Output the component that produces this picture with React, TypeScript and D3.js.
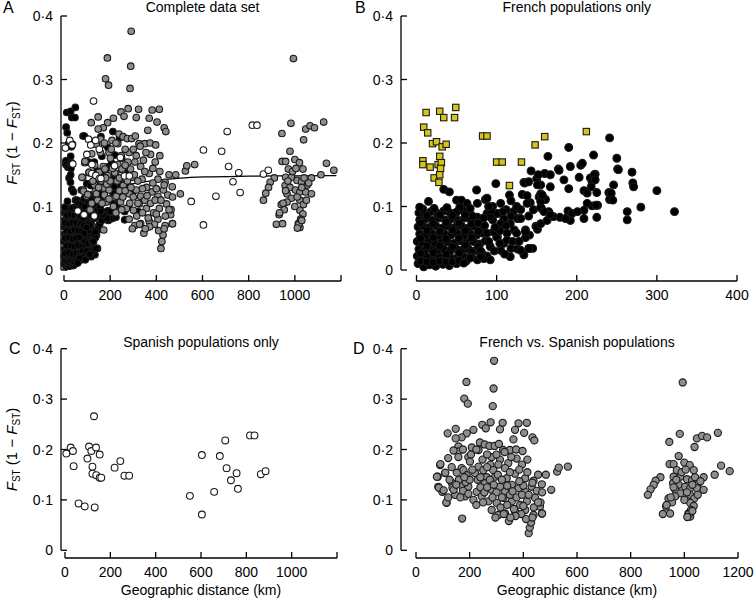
import React, { useEffect, useRef } from 'react'
import * as d3 from 'd3'

type Pt = [number, number] // [distance km, Fst/(1-Fst)]

// ---- data ----
const yTicks = [0, 0.1, 0.2, 0.3, 0.4]
const kmTicksWide = [0, 200, 400, 600, 800, 1000, 1200]
const kmTicksFrench = [0, 100, 200, 300, 400]

// French vs French pairs (black dots in B and A)
const french: Pt[] = [
  [2, 0.01], [9, 0.005], [16, 0.008], [24, 0.006], [33, 0.009], [41, 0.007], [50, 0.01], [58, 0.012],
  [1, 0.022], [6, 0.018], [13, 0.02], [21, 0.017], [28, 0.021], [36, 0.019], [44, 0.018], [52, 0.021], [60, 0.02], [68, 0.022], [76, 0.016],
  [3, 0.033], [10, 0.03], [18, 0.034], [26, 0.031], [34, 0.033], [42, 0.03], [49, 0.034], [57, 0.031], [65, 0.033], [73, 0.03], [81, 0.028],
  [1, 0.045], [7, 0.043], [15, 0.046], [23, 0.042], [31, 0.045], [39, 0.044], [47, 0.042], [55, 0.046], [63, 0.043], [71, 0.045], [79, 0.041], [86, 0.046],
  [4, 0.057], [11, 0.055], [19, 0.058], [27, 0.054], [35, 0.057], [43, 0.055], [51, 0.058], [59, 0.054], [67, 0.057], [75, 0.055], [83, 0.058],
  [2, 0.068], [8, 0.07], [16, 0.067], [24, 0.07], [32, 0.066], [40, 0.069], [48, 0.067], [56, 0.07], [64, 0.066], [72, 0.069], [80, 0.065],
  [4, 0.079], [12, 0.081], [20, 0.078], [28, 0.082], [36, 0.079], [44, 0.081], [52, 0.078], [60, 0.082], [68, 0.079], [76, 0.083],
  [3, 0.09], [10, 0.088], [18, 0.092], [26, 0.089], [34, 0.093], [42, 0.09], [50, 0.091], [58, 0.094], [66, 0.09],
  [5, 0.026], [13, 0.038], [21, 0.027], [29, 0.038], [37, 0.025], [45, 0.037], [53, 0.027], [61, 0.039], [69, 0.028], [77, 0.037],
  [5, 0.05], [13, 0.062], [21, 0.051], [29, 0.061], [37, 0.049], [45, 0.063], [53, 0.05], [61, 0.062], [69, 0.051], [77, 0.061],
  [5, 0.074], [13, 0.086], [21, 0.073], [29, 0.087], [37, 0.075], [45, 0.086], [53, 0.074], [61, 0.087], [69, 0.073], [77, 0.074],
  [5, 0.014], [13, 0.013], [21, 0.012], [29, 0.014], [37, 0.013], [45, 0.013], [53, 0.015], [62, 0.014],
  [8, 0.096], [22, 0.097], [38, 0.098], [54, 0.099], [70, 0.085],
  [4, 0.099], [15, 0.108], [34, 0.127], [41, 0.123], [50, 0.11], [56, 0.11], [63, 0.105], [67, 0.097], [76, 0.105], [75, 0.126],
  [86, 0.111], [88, 0.113], [88, 0.089], [95, 0.079], [99, 0.136], [101, 0.089], [105, 0.105], [109, 0.081], [116, 0.118], [118, 0.109],
  [126, 0.081], [122, 0.063], [132, 0.119], [134, 0.138], [136, 0.063], [141, 0.055], [142, 0.106], [149, 0.069], [151, 0.064], [153, 0.115],
  [156, 0.097], [136, 0.051], [134, 0.024], [141, 0.034], [145, 0.034], [118, 0.034], [126, 0.033], [109, 0.042], [101, 0.052], [113, 0.058],
  [92, 0.037], [88, 0.022], [84, 0.018], [68, 0.021], [80, 0.03], [121, 0.092], [130, 0.081], [117, 0.073], [105, 0.073], [92, 0.084],
  [100, 0.052], [113, 0.047], [125, 0.058], [105, 0.031], [117, 0.021], [130, 0.031], [80, 0.021], [92, 0.016], [67, 0.019], [59, 0.011],
  [90, 0.045], [97, 0.03], [104, 0.042], [110, 0.025], [96, 0.06], [104, 0.062], [112, 0.07], [120, 0.045], [128, 0.045], [95, 0.1],
  [112, 0.095], [125, 0.1], [85, 0.07], [88, 0.058], [93, 0.094], [98, 0.067], [108, 0.092], [130, 0.095], [118, 0.085], [140, 0.085],
  [146, 0.095], [84, 0.082], [90, 0.1],
  [241, 0.208], [190, 0.193], [164, 0.179], [221, 0.181], [250, 0.176], [251, 0.159], [269, 0.154], [143, 0.156], [160, 0.152], [177, 0.159],
  [192, 0.163], [205, 0.165], [207, 0.168], [223, 0.151], [135, 0.137], [150, 0.144], [155, 0.134], [184, 0.142], [203, 0.146], [217, 0.145],
  [219, 0.139], [246, 0.134], [270, 0.137], [271, 0.131], [300, 0.125], [138, 0.117], [155, 0.12], [161, 0.111], [190, 0.128], [209, 0.125],
  [225, 0.122], [240, 0.122], [241, 0.111], [138, 0.105], [155, 0.099], [165, 0.092], [171, 0.084], [179, 0.083], [189, 0.093], [194, 0.089],
  [192, 0.078], [209, 0.094], [209, 0.081], [219, 0.101], [225, 0.083], [226, 0.102], [263, 0.092], [263, 0.079], [280, 0.099], [322, 0.092],
  [150, 0.068], [136, 0.06], [140, 0.034], [155, 0.073], [163, 0.078], [152, 0.15], [167, 0.15], [178, 0.157], [222, 0.15], [223, 0.142],
  [252, 0.158], [243, 0.121], [245, 0.11], [213, 0.121], [218, 0.131], [213, 0.105], [224, 0.102], [201, 0.092], [186, 0.081], [167, 0.087],
  [159, 0.092], [155, 0.108], [157, 0.118], [167, 0.131], [151, 0.134], [140, 0.139],
]

// French pairs involving the outlying population (yellow squares in B)
const frenchOutlier: Pt[] = [
  [12, 0.248], [29, 0.25], [34, 0.24], [49, 0.256], [47.5, 0.24], [9, 0.225], [14, 0.216], [20, 0.199], [25, 0.202], [32, 0.194],
  [37, 0.198], [8, 0.172], [8, 0.166], [17, 0.162], [29, 0.179], [27, 0.166], [31, 0.169], [30, 0.16], [22, 0.145], [29, 0.15],
  [28, 0.138], [82.5, 0.211], [88, 0.211], [100, 0.17], [107, 0.17], [131, 0.17], [148, 0.197], [160, 0.21], [212, 0.218], [116, 0.133],
]

// Spanish vs Spanish pairs (white circles in C and A)
const spanish: Pt[] = [
  [6, 0.192], [25, 0.204], [35, 0.197], [38, 0.167], [60, 0.093], [87, 0.087], [106, 0.206], [99, 0.182], [116, 0.197], [128, 0.266],
  [137, 0.204], [121, 0.166], [121, 0.152], [131, 0.085], [138, 0.149], [153, 0.19], [153, 0.144], [160, 0.144], [219, 0.164], [244, 0.177],
  [262, 0.148], [283, 0.148], [551, 0.108], [604, 0.189], [604, 0.071], [658, 0.116], [683, 0.187], [707, 0.218], [713, 0.163], [732, 0.139],
  [757, 0.153], [763, 0.122], [816, 0.228], [836, 0.228], [864, 0.151], [885, 0.157],
]

// French vs Spanish pairs (grey circles in D and A)
const frenchSpanish: Pt[] = [
  [291, 0.376], [188, 0.334], [289, 0.321], [180, 0.301], [193, 0.291], [286, 0.286],
  [247, 0.249], [278, 0.254], [323, 0.253], [382, 0.252], [413, 0.253], [260, 0.242], [313, 0.24], [369, 0.239], [403, 0.233], [434, 0.224],
  [441, 0.218], [118, 0.232], [148, 0.241], [189, 0.232], [214, 0.239], [170, 0.224], [148, 0.222], [363, 0.22],
  [238, 0.214], [256, 0.21], [274, 0.207], [293, 0.207], [309, 0.211], [325, 0.199], [350, 0.199], [373, 0.2], [397, 0.197], [158, 0.206],
  [158, 0.196], [208, 0.204], [233, 0.199],
  [120, 0.183], [158, 0.185], [195, 0.185], [248, 0.18], [282, 0.185], [313, 0.18], [344, 0.173], [375, 0.182], [90, 0.169], [201, 0.176],
  [233, 0.166], [277, 0.17], [307, 0.17], [332, 0.163], [170, 0.163], [133, 0.165],
  [108, 0.153], [152, 0.154], [177, 0.159], [189, 0.149], [220, 0.153], [251, 0.159], [264, 0.145], [288, 0.159], [295, 0.146], [338, 0.143],
  [369, 0.152], [407, 0.143], [438, 0.138], [484, 0.15], [81, 0.146],
  [83, 0.126], [98, 0.116], [133, 0.134], [170, 0.129], [195, 0.126], [226, 0.116], [257, 0.133], [282, 0.12], [313, 0.126], [332, 0.116],
  [357, 0.13], [382, 0.123], [407, 0.116], [431, 0.126], [469, 0.131], [504, 0.12],
  [114, 0.094], [146, 0.11], [183, 0.107], [214, 0.1], [245, 0.107], [270, 0.097], [301, 0.094], [326, 0.104], [357, 0.097], [388, 0.09],
  [413, 0.097], [444, 0.104], [462, 0.087],
  [172, 0.063], [282, 0.08], [307, 0.07], [332, 0.073], [369, 0.077], [407, 0.08], [438, 0.07], [469, 0.073],
  [420, 0.034], [424, 0.045], [429, 0.055], [410, 0.062], [434, 0.065], [392, 0.072], [371, 0.068], [346, 0.058], [352, 0.065], [327, 0.072],
  [296, 0.065], [470, 0.073], [464, 0.095], [439, 0.085], [526, 0.156], [532, 0.164], [566, 0.166], [434, 0.134],
  [78, 0.146], [91, 0.171], [85, 0.124], [103, 0.119], [113, 0.095], [136, 0.124], [109, 0.154],
  [125, 0.14], [140, 0.12], [160, 0.14], [175, 0.118], [185, 0.135], [200, 0.14], [210, 0.16], [230, 0.14], [240, 0.125], [255, 0.115],
  [265, 0.125], [275, 0.14], [290, 0.13], [300, 0.115], [305, 0.15], [320, 0.14], [340, 0.128], [350, 0.11], [360, 0.117], [375, 0.105],
  [395, 0.11], [400, 0.128], [420, 0.11], [450, 0.118], [165, 0.105], [195, 0.112], [225, 0.09], [250, 0.095], [285, 0.105], [315, 0.085],
  [340, 0.09], [365, 0.082], [400, 0.088], [455, 0.095], [205, 0.19], [225, 0.2], [265, 0.19], [300, 0.19], [330, 0.195], [355, 0.185],
  [395, 0.17], [415, 0.18], [140, 0.198], [175, 0.2], [265, 0.165], [350, 0.155], [385, 0.16], [415, 0.155], [455, 0.15], [470, 0.115],
  [120, 0.105], [150, 0.13], [180, 0.145], [240, 0.145], [320, 0.105], [385, 0.137],
  [994, 0.333], [983, 0.231], [944, 0.215], [1047, 0.222], [1066, 0.227], [1085, 0.224], [1125, 0.233], [1038, 0.205], [979, 0.187], [945, 0.171],
  [960, 0.171], [1000, 0.174], [1020, 0.169], [1035, 0.159], [1137, 0.168], [1169, 0.157], [1113, 0.15], [1072, 0.145], [1053, 0.134], [972, 0.159],
  [960, 0.146], [985, 0.146], [1010, 0.141], [1029, 0.139], [911, 0.145], [893, 0.138], [886, 0.13], [874, 0.121], [864, 0.11], [958, 0.133],
  [979, 0.13], [1003, 0.126], [1022, 0.123], [1047, 0.123], [1072, 0.12], [966, 0.12], [985, 0.113], [966, 0.107], [941, 0.103], [1022, 0.11],
  [1037, 0.103], [954, 0.095], [1022, 0.094], [1035, 0.088], [932, 0.087], [920, 0.072], [947, 0.073], [1015, 0.073], [1025, 0.08], [1022, 0.067],
  [1017, 0.0715], [1030, 0.078], [1011, 0.066], [934, 0.09], [949, 0.105], [990, 0.155], [1005, 0.16], [1040, 0.145], [970, 0.14], [1000, 0.1],
  [1010, 0.115], [1050, 0.11], [960, 0.125], [1030, 0.13], [1060, 0.137],
]

// fitted isolation-by-distance curve in A
const fitLine: Pt[] = [
  [200, 0.129], [307, 0.1366], [400, 0.141], [502, 0.1446], [610, 0.1465], [800, 0.1477], [1000, 0.1483], [1180, 0.1487],
]

const FONT = '"Liberation Sans", Arial, Helvetica, sans-serif'
const GREY = '#8e8e8e'
const YELLOW = '#d6c514'

interface Panel {
  letter: string
  title: string
  xMax: number
  ticks: number[]
  labelled: number[]
  x0: number; x1: number
  y0: number; y1: number
  yAxisX: number
  xAxisY: number
  titleY: number
  letterX: number
  letterY: number
  yLabel: boolean
  xLabel: boolean
}

const fmtY = (v: number) => (v === 0 ? '0' : d3.format('.1f')(v).replace('.', '·'))

export default function App() {
  const svgRef = useRef<SVGSVGElement>(null)

  useEffect(() => {
    if (!svgRef.current) return
    const svg = d3.select(svgRef.current)
    svg.selectAll('*').remove()

    const panels: Panel[] = [
      { letter: 'A', title: 'Complete data set', xMax: 1200, ticks: kmTicksWide, labelled: kmTicksWide.slice(0, 6),
        x0: 64, x1: 341, y0: 270, y1: 16, yAxisX: 61, xAxisY: 281, titleY: 12, letterX: 3, letterY: 13, yLabel: true, xLabel: false },
      { letter: 'B', title: 'French populations only', xMax: 400, ticks: kmTicksFrench, labelled: kmTicksFrench,
        x0: 416.5, x1: 737, y0: 270, y1: 16, yAxisX: 401, xAxisY: 281, titleY: 12, letterX: 355, letterY: 13, yLabel: false, xLabel: false },
      { letter: 'C', title: 'Spanish populations only', xMax: 1200, ticks: kmTicksWide, labelled: kmTicksWide.slice(0, 6),
        x0: 65, x1: 337, y0: 550.3, y1: 348.7, yAxisX: 61, xAxisY: 558, titleY: 347, letterX: 9, letterY: 354, yLabel: true, xLabel: true },
      { letter: 'D', title: 'French vs. Spanish populations', xMax: 1200, ticks: kmTicksWide, labelled: kmTicksWide,
        x0: 416, x1: 738, y0: 550.3, y1: 348.7, yAxisX: 401, xAxisY: 558, titleY: 347, letterX: 353, letterY: 354, yLabel: false, xLabel: true },
    ]

    panels.forEach(p => {
      const x = d3.scaleLinear().domain([0, p.xMax]).range([p.x0, p.x1])
      const y = d3.scaleLinear().domain([0, 0.4]).range([p.y0, p.y1])
      const g = svg.append('g').style('font-family', FONT)

      // y axis (bracket style, ticks inward)
      g.append('line')
        .attr('x1', p.yAxisX).attr('x2', p.yAxisX)
        .attr('y1', y(0)).attr('y2', y(0.4))
        .attr('stroke', '#000').attr('stroke-width', 1.3)
      yTicks.forEach(t => {
        g.append('line')
          .attr('x1', p.yAxisX).attr('x2', p.yAxisX + 6)
          .attr('y1', y(t)).attr('y2', y(t))
          .attr('stroke', '#000').attr('stroke-width', 1.3)
        g.append('text')
          .attr('x', p.yAxisX - 8).attr('y', y(t)).attr('dy', '0.36em')
          .attr('text-anchor', 'end').style('font-size', '14px')
          .text(fmtY(t))
      })

      // x axis
      g.append('line')
        .attr('x1', x(0)).attr('x2', x(p.xMax))
        .attr('y1', p.xAxisY).attr('y2', p.xAxisY)
        .attr('stroke', '#000').attr('stroke-width', 1.3)
      p.ticks.forEach(t => {
        g.append('line')
          .attr('x1', x(t)).attr('x2', x(t))
          .attr('y1', p.xAxisY).attr('y2', p.xAxisY - 6)
          .attr('stroke', '#000').attr('stroke-width', 1.3)
      })
      p.labelled.forEach(t => {
        g.append('text')
          .attr('x', x(t)).attr('y', p.xAxisY + 19)
          .attr('text-anchor', 'middle').style('font-size', '14px')
          .text(String(t))
      })

      // titles and panel letters
      g.append('text')
        .attr('x', (p.x0 + p.x1) / 2).attr('y', p.titleY)
        .attr('text-anchor', 'middle').style('font-size', '14px')
        .text(p.title)
      g.append('text')
        .attr('x', p.letterX).attr('y', p.letterY)
        .style('font-size', '16px')
        .text(p.letter)

      if (p.yLabel) {
        const cy = y(0.2)
        const lab = g.append('text')
          .attr('transform', `translate(17,${cy}) rotate(-90)`)
          .attr('text-anchor', 'middle').style('font-size', '15px')
        lab.append('tspan').style('font-style', 'italic').text('F')
        lab.append('tspan').attr('dy', 3).style('font-size', '10px').text('ST')
        lab.append('tspan').attr('dy', -3).text(' (1 − ')
        lab.append('tspan').style('font-style', 'italic').text('F')
        lab.append('tspan').attr('dy', 3).style('font-size', '10px').text('ST')
        lab.append('tspan').attr('dy', -3).text(')')
      }
      if (p.xLabel) {
        g.append('text')
          .attr('x', (p.x0 + p.x1) / 2).attr('y', 595)
          .attr('text-anchor', 'middle').style('font-size', '14px')
          .text('Geographic distance (km)')
      }

      const dots = (data: Pt[], r: number, fill: string) => {
        g.append('g').selectAll('circle')
          .data(data)
          .enter().append('circle')
          .attr('cx', d => x(d[0]))
          .attr('cy', d => y(d[1]))
          .attr('r', r)
          .attr('fill', fill)
          .attr('stroke', '#1a1a1a')
          .attr('stroke-width', 1.1)
      }

      if (p.letter === 'A') {
        const line = d3.line<Pt>().x(d => x(d[0])).y(d => y(d[1])).curve(d3.curveMonotoneX)
        g.append('path').attr('d', line(fitLine)).attr('fill', 'none').attr('stroke', '#000').attr('stroke-width', 1.2)
        dots(french.concat(frenchOutlier), 3.3, '#000')
        dots(frenchSpanish, 3.3, GREY)
        dots(spanish, 3.3, '#fff')
      } else if (p.letter === 'B') {
        dots(french, 3.9, '#000')
        g.append('g').selectAll('rect')
          .data(frenchOutlier)
          .enter().append('rect')
          .attr('x', d => x(d[0]) - 3.2)
          .attr('y', d => y(d[1]) - 3.2)
          .attr('width', 6.4).attr('height', 6.4)
          .attr('fill', YELLOW)
          .attr('stroke', '#1a1a1a').attr('stroke-width', 1.1)
      } else if (p.letter === 'C') {
        dots(spanish, 3.4, '#fff')
      } else {
        dots(frenchSpanish, 3.6, GREY)
      }
    })
  }, [])

  return (
    <svg
      ref={svgRef}
      width={754}
      height={602}
      style={{ position: 'absolute', left: 0, top: 0, background: '#fff' }}
    />
  )
}
